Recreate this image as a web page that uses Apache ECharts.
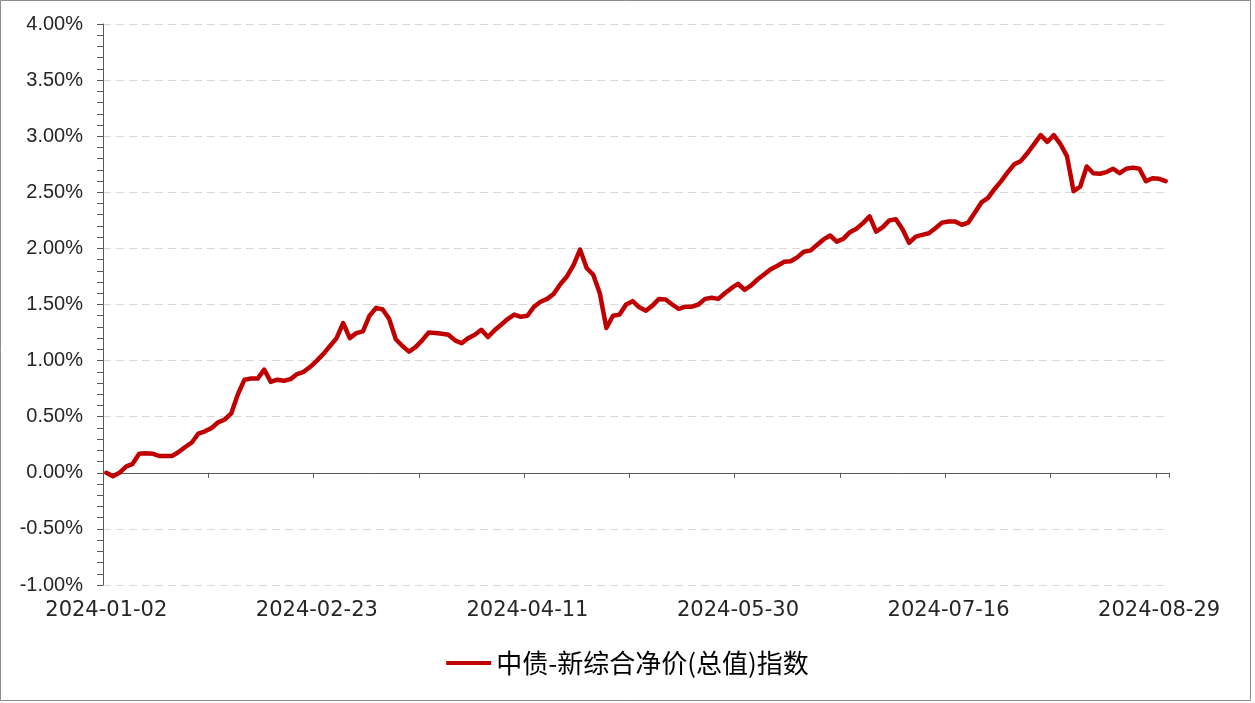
<!DOCTYPE html>
<html>
<head>
<meta charset="utf-8">
<script src="https://cdn.jsdelivr.net/npm/echarts@6/dist/echarts.min.js"></script>
<style>
html,body{margin:0;padding:0;background:#fff;}
#chart{width:1255px;height:703px;}
</style>
</head>
<body>
<div id="chart"></div>
<script>
// Trading calendar (SSE) 2024-01-02 .. 2024-08-30
const startDate = '2024-01-02';
const endDate = '2024-08-30';
const holidays = ['2024-02-09','2024-02-12','2024-02-13','2024-02-14','2024-02-15','2024-02-16',
  '2024-04-04','2024-04-05','2024-05-01','2024-05-02','2024-05-03','2024-06-10'];

// Index change since start (%), one value per trading day
const values = [
  0.00,-0.03,0.00,0.055,0.08,0.17,0.175,0.17,0.15,0.15,
  0.15,0.185,0.23,0.27,0.35,0.37,0.40,0.45,0.475,0.53,
  0.70,0.83,0.84,0.84,0.92,0.81,0.83,0.82,0.835,0.88,
  0.90,0.945,1.00,1.06,1.13,1.20,1.335,1.20,1.245,1.26,
  1.40,1.47,1.455,1.37,1.19,1.13,1.08,1.12,1.18,1.25,
  1.245,1.24,1.23,1.18,1.155,1.20,1.23,1.275,1.21,1.27,
  1.32,1.37,1.41,1.39,1.40,1.48,1.525,1.55,1.595,1.68,
  1.75,1.85,1.99,1.825,1.765,1.60,1.29,1.40,1.41,1.50,
  1.53,1.475,1.445,1.49,1.55,1.545,1.50,1.46,1.48,1.48,
  1.50,1.55,1.56,1.55,1.60,1.645,1.685,1.63,1.67,1.725,
  1.77,1.815,1.845,1.88,1.885,1.92,1.97,1.98,2.03,2.08,
  2.115,2.06,2.085,2.145,2.175,2.225,2.285,2.15,2.19,2.25,
  2.26,2.17,2.05,2.105,2.12,2.135,2.18,2.23,2.24,2.24,
  2.21,2.23,2.32,2.41,2.45,2.53,2.60,2.68,2.75,2.78,
  2.85,2.93,3.01,2.95,3.01,2.93,2.82,2.51,2.55,2.73,
  2.67,2.665,2.68,2.71,2.67,2.71,2.72,2.71,2.60,2.625,
  2.62,2.60
];

const seriesName = '中债-新综合净价(总值)指数';
const yMin = -1, yMax = 4, yStep = 0.5;

function buildDates(){
  const out = [];
  const d = new Date(startDate + 'T00:00:00Z');
  const end = new Date(endDate + 'T00:00:00Z');
  while (d <= end) {
    const s = d.toISOString().slice(0,10);
    const wd = d.getUTCDay();
    if (wd !== 0 && wd !== 6 && holidays.indexOf(s) < 0) out.push(s);
    d.setUTCDate(d.getUTCDate() + 1);
  }
  return out;
}
const dates = buildDates();

const axisColor = '#595959';
const chart = echarts.init(document.getElementById('chart'), null, {renderer:'canvas'});
chart.setOption({
  backgroundColor: '#ffffff',
  animation: false,
  graphic: [{
    type: 'rect', silent: true,
    shape: {x: 0.5, y: 0.5, width: 1250, height: 700},
    style: {fill: 'none', stroke: '#8c8c8c', lineWidth: 1}
  }],
  grid: {left: 103, top: 24, width: 1066, height: 561, containLabel: false},
  legend: {
    data: [seriesName],
    left: 'center',
    top: 645,
    icon: 'rect',
    itemWidth: 45,
    itemHeight: 4,
    itemGap: 10,
    textStyle: {fontSize: 26, color: '#000', fontFamily: '"Noto Sans CJK SC", sans-serif'}
  },
  xAxis: [{
    type: 'category',
    data: dates,
    boundaryGap: true,
    axisLine: {onZero: true, lineStyle: {color: axisColor, width: 1}},
    axisTick: {show: true, interval: 15, length: 5, lineStyle: {color: axisColor}},
    axisLabel: {show: false},
    splitLine: {show: false}
  }, {
    type: 'category',
    data: dates,
    position: 'bottom',
    boundaryGap: true,
    axisLine: {show: false, onZero: false},
    axisTick: {show: false},
    axisLabel: {
      interval: 31, margin: 15, fontSize: 21, color: '#262626',
      fontFamily: '"DejaVu Sans", sans-serif'
    },
    splitLine: {show: false}
  }],
  yAxis: {
    type: 'value',
    min: yMin, max: yMax, interval: yStep,
    axisLine: {show: true, lineStyle: {color: axisColor, width: 1}},
    axisTick: {show: true, length: 6, lineStyle: {color: axisColor}},
    minorTick: {show: true, splitNumber: 5, length: 6, lineStyle: {color: axisColor}},
    axisLabel: {
      margin: 20, fontSize: 20, color: '#262626',
      fontFamily: '"Liberation Sans", sans-serif',
      formatter: v => v.toFixed(2) + '%'
    },
    splitLine: {show: true, lineStyle: {color: '#d9d9d9', type: [8, 5], width: 1}}
  },
  series: [{
    name: seriesName,
    type: 'line',
    xAxisIndex: 0,
    data: values,
    symbol: 'none',
    smooth: false,
    lineStyle: {color: '#C00000', width: 4.5, join: 'round', cap: 'round'},
    itemStyle: {color: '#C00000'}
  }]
});
</script>
</body>
</html>
